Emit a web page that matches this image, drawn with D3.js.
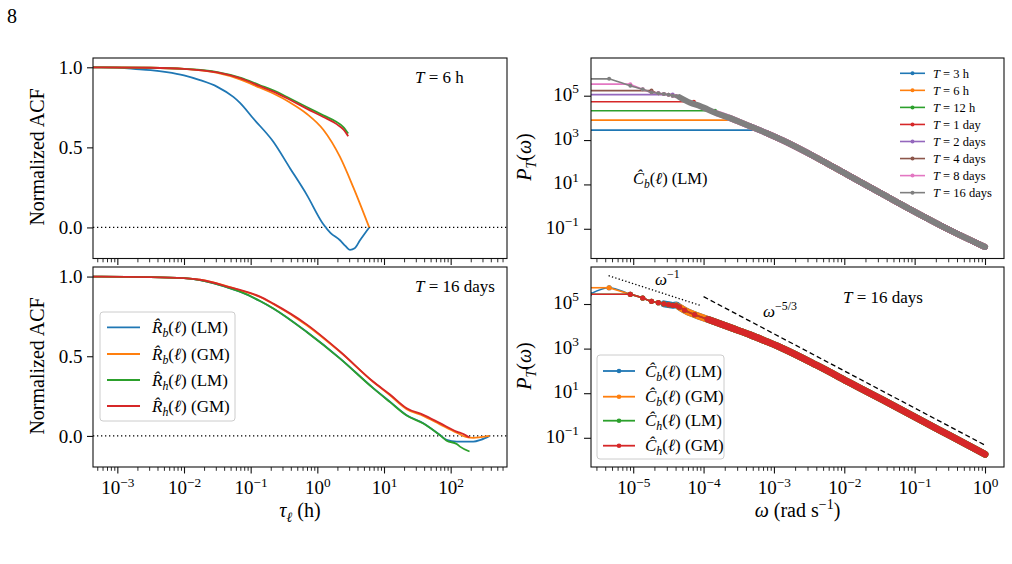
<!DOCTYPE html>
<html><head><meta charset="utf-8">
<script src="https://cdn.jsdelivr.net/npm/d3@7"></script>
<style>
body{margin:0;background:#fff}
svg{display:block}
text{font-family:"Liberation Serif","Times New Roman",serif;fill:#000}
</style>
</head><body>
<svg id="c" width="1012" height="564"></svg>
<script>
// ================= DATA =================
// Left panels: [log10(tau_l / h), normalized ACF]
const acf6hRbLM = [[-3.6,1.0],[-3.0,0.998],[-2.76,0.99],[-2.5,0.982],[-2.26,0.97],[-2.0,0.95],[-1.76,0.92],[-1.5,0.878],[-1.26,0.815],[-1.16,0.778],[-0.96,0.68],[-0.66,0.535],[-0.41,0.37],[-0.16,0.205],[0.09,0.02],[0.2,-0.035],[0.34,-0.08],[0.42,-0.115],[0.49,-0.14],[0.56,-0.13],[0.64,-0.08],[0.778,0.0]];
const acf6hRbGM = [[-3.6,1.0],[-2.5,0.997],[-2.0,0.99],[-1.5,0.965],[-1.16,0.925],[-0.86,0.872],[-0.66,0.836],[-0.41,0.78],[-0.16,0.71],[0.09,0.61],[0.34,0.44],[0.54,0.25],[0.778,0.0]];
const acf6hRhLM = [[-3.6,1.0],[-2.5,0.997],[-2.0,0.99],[-1.5,0.97],[-1.16,0.936],[-0.86,0.888],[-0.66,0.856],[-0.41,0.805],[-0.16,0.752],[0.09,0.70],[0.29,0.658],[0.39,0.627],[0.463,0.586]];
const acf6hRhGM = [[-3.6,1.0],[-2.5,0.997],[-2.0,0.99],[-1.5,0.968],[-1.16,0.932],[-0.86,0.882],[-0.66,0.848],[-0.41,0.797],[-0.16,0.742],[0.09,0.69],[0.29,0.645],[0.39,0.612],[0.463,0.57]];

const acf16dRbLM = [[-3.6,1.0],[-2.5,0.997],[-2.0,0.99],[-1.76,0.978],[-1.26,0.92],[-1.16,0.905],[-0.86,0.847],[-0.66,0.80],[-0.16,0.654],[0.34,0.487],[0.84,0.30],[1.09,0.215],[1.34,0.13],[1.59,0.08],[1.84,0.006],[1.94,-0.025],[2.09,-0.036],[2.34,-0.036],[2.45,-0.025],[2.584,0.0]];
const acf16dRbGM = [[-3.6,1.0],[-2.5,0.997],[-2.0,0.99],[-1.76,0.98],[-1.26,0.927],[-1.16,0.914],[-0.86,0.872],[-0.66,0.828],[-0.16,0.695],[0.34,0.527],[0.84,0.338],[1.09,0.255],[1.34,0.168],[1.59,0.125],[1.84,0.072],[2.09,0.02],[2.24,-0.008],[2.34,-0.012],[2.45,-0.008],[2.584,0.0]];
const acf16dRhLM = [[-3.6,1.0],[-2.5,0.997],[-2.0,0.99],[-1.76,0.978],[-1.26,0.92],[-1.16,0.905],[-0.86,0.847],[-0.66,0.80],[-0.16,0.652],[0.34,0.485],[0.84,0.298],[1.09,0.212],[1.34,0.128],[1.59,0.078],[1.84,0.004],[1.94,-0.03],[2.09,-0.05],[2.14,-0.067],[2.283,-0.098]];
const acf16dRhGM = [[-3.6,1.0],[-2.5,0.997],[-2.0,0.99],[-1.76,0.98],[-1.26,0.927],[-1.16,0.916],[-0.86,0.874],[-0.66,0.83],[-0.16,0.70],[0.34,0.53],[0.84,0.34],[1.09,0.26],[1.34,0.174],[1.59,0.132],[1.84,0.08],[2.09,0.027],[2.2,0.01],[2.283,-0.01]];

const acfLegendLabels = [["b","LM"],["b","GM"],["h","LM"],["h","GM"]];

// Top-right: spectra of C_b (LM) for different T : [log10 omega, log10 P]
const periodLabels = ["3 h","6 h","12 h","1 day","2 days","4 days","8 days","16 days"];
const firstOmegaLog = [-3.235,-3.536,-3.837,-4.138,-4.439,-4.740,-5.041,-5.342];
const firstPowerLog = [3.45,3.90,4.32,4.73,5.05,5.23,5.52,5.76];
const specTailLM = [[-5.041,5.45],[-4.865,5.29],[-4.740,5.15],[-4.643,5.11],[-4.564,5.08],[-4.497,5.04],[-4.439,5.00],[-4.388,4.97],[-4.342,4.93],[-4.19,4.68],[-4.05,4.53],[-3.81,4.20],[-3.63,4.00],[-3.34,3.62],[-3.10,3.31],[-2.87,2.98],[-2.39,2.20],[-1.92,1.37],[-1.45,0.55],[-0.97,-0.28],[-0.50,-1.06],[0.0,-1.82]];

// Bottom-right: T = 16 days spectra
const spec16dHeadCbLM = [[-5.62,5.44],[-5.342,5.73],[-5.041,5.435]];
const spec16dHeadCbGM = [[-5.342,5.73],[-5.041,5.435]];
const spec16dHeadChLM = [[-5.041,5.435]];
const spec16dHeadChGM = [[-5.041,5.435]];
const spec16dTailCb = [[-4.865,5.27],[-4.740,5.12],[-4.643,5.06],[-4.564,5.01],[-4.497,4.97],[-4.439,4.94],[-4.388,4.96],[-4.342,4.86],[-4.269,4.72],[-4.127,4.52],[-3.937,4.31],[-3.58,3.90],[-3.34,3.62],[-3.10,3.31],[-2.87,3.00],[-2.39,2.25],[-1.92,1.47],[-1.45,0.69],[-0.97,-0.11],[-0.50,-0.90],[0.0,-1.74]];
const spec16dTailCh = [[-4.865,5.27],[-4.740,5.12],[-4.643,5.06],[-4.564,5.01],[-4.497,4.97],[-4.439,4.94],[-4.388,4.93],[-4.342,4.86],[-4.269,4.72],[-4.127,4.52],[-3.937,4.31],[-3.58,3.90],[-3.34,3.62],[-3.10,3.31],[-2.87,3.00],[-2.39,2.25],[-1.92,1.47],[-1.45,0.69],[-0.97,-0.11],[-0.50,-0.90],[0.0,-1.74]];
const specLegendLabels = [["b","LM"],["b","GM"],["h","LM"],["h","GM"]];

// Reference power laws [log10 omega, log10 P]
const guideOmegaM1 = [[-5.35,6.27],[-4.03,4.92]];
const guideOmegaM53 = [[-4.0,5.33],[0.0,-1.33]];

// Ticks
const acfXTicks = [1e-3,1e-2,1e-1,1e0,1e1,1e2];
const acfYTicks = [0.0,0.5,1.0];
const specXTicks = [1e-5,1e-4,1e-3,1e-2,1e-1,1e0];
const specYTicks = [1e-1,1e1,1e3,1e5];

const colors = ["#1f77b4","#ff7f0e","#2ca02c","#d62728","#9467bd","#8c564b","#e377c2","#7f7f7f"];

// ================= LAYOUT =================
const svg = d3.select("#c");
const L = {x0:93, x1:507}, R = {x0:591, x1:1004};
const TOP = {y0:58, y1:258.5}, BOT = {y0:267, y1:467};

const xAcf = d3.scaleLog().domain([10**-3.365, 10**2.845]).range([L.x0, L.x1]);
const yAcfTop = d3.scaleLinear().domain([-0.194,1.058]).range([TOP.y1, TOP.y0]);
const yAcfBot = d3.scaleLinear().domain([-0.195,1.06]).range([BOT.y1, BOT.y0]);
const xSp = d3.scaleLog().domain([10**-5.60, 10**0.27]).range([R.x0, R.x1]);
const ySpTop = d3.scaleLog().domain([10**-2.34, 10**6.70]).range([TOP.y1, TOP.y0]);
const ySpBot = d3.scaleLog().domain([10**-2.31, 10**6.66]).range([BOT.y1, BOT.y0]);

const defs = svg.append("defs");
let clipId = 0;
function panel(xr, yr) {
  const id = "clip" + (clipId++);
  defs.append("clipPath").attr("id", id).append("rect")
    .attr("x", xr.x0).attr("y", yr.y0).attr("width", xr.x1 - xr.x0).attr("height", yr.y1 - yr.y0);
  return svg.append("g").attr("clip-path", `url(#${id})`);
}
function frame(xr, yr) {
  svg.append("rect").attr("x", xr.x0).attr("y", yr.y0).attr("width", xr.x1 - xr.x0).attr("height", yr.y1 - yr.y0)
    .attr("fill", "none").attr("stroke", "#111").attr("stroke-width", 1.1);
}

function minorLog(scale) {
  const [a, b] = scale.domain();
  const out = [];
  for (let e = Math.floor(Math.log10(a)); e <= Math.ceil(Math.log10(b)); e++)
    for (let m = 2; m <= 9; m++) { const v = m * 10 ** e; if (v >= a && v <= b) out.push(v); }
  return out;
}
function supLabel(textSel, d, size) {
  const e = Math.round(Math.log10(d));
  textSel.text(null);
  textSel.append("tspan").text("10");
  textSel.append("tspan").text(e < 0 ? "\u2212" + (-e) : String(e))
    .attr("font-size", size * 0.7).attr("dy", -size * 0.42);
}

function xAxis(x, yPix, majors, showLabels) {
  const gm = svg.append("g").attr("transform", `translate(0,${yPix})`)
    .call(d3.axisBottom(x).tickValues(minorLog(x)).tickSize(3.8).tickFormat(""));
  gm.select(".domain").remove();
  gm.selectAll("line").attr("stroke", "#111").attr("stroke-width", 0.9);
  const g = svg.append("g").attr("transform", `translate(0,${yPix})`)
    .call(d3.axisBottom(x).tickValues(majors).tickSize(6.5).tickPadding(7.5).tickFormat(() => ""));
  g.select(".domain").remove();
  g.selectAll("line").attr("stroke", "#111").attr("stroke-width", 1.1);
  g.attr("font-family", null).attr("font-size", 19);
  if (showLabels) g.selectAll(".tick text").each(function (d) { supLabel(d3.select(this), d, 19); });
}
function yAxisLin(y, xPix, ticks) {
  const g = svg.append("g").attr("transform", `translate(${xPix},0)`)
    .call(d3.axisLeft(y).tickValues(ticks).tickSize(6).tickPadding(4.5).tickFormat(d3.format(".1f")));
  g.select(".domain").remove();
  g.selectAll("line").attr("stroke", "#111").attr("stroke-width", 1.1);
  g.attr("font-family", null).attr("font-size", 19);
}
function yAxisLog(y, xPix, ticks) {
  const g = svg.append("g").attr("transform", `translate(${xPix},0)`)
    .call(d3.axisLeft(y).tickValues(ticks).tickSize(7).tickPadding(5).tickFormat(() => ""));
  g.select(".domain").remove();
  g.selectAll("line").attr("stroke", "#111").attr("stroke-width", 1.1);
  g.attr("font-family", null).attr("font-size", 19);
  g.selectAll(".tick text").attr("dy", "0.24em").each(function (d) { supLabel(d3.select(this), d, 19); });
}

function rich(g, x, y, parts, size, anchor) {
  const t = g.append("text").attr("x", x).attr("y", y).attr("font-size", size)
    .attr("text-anchor", anchor || "start");
  let cur = 0;
  parts.forEach(([s, st]) => {
    st = st || "";
    let shift = 0, fs = size;
    if (st.includes("sub")) { shift = 0.24 * size; fs = 0.7 * size; }
    if (st.includes("sup")) { shift = -0.42 * size; fs = 0.7 * size; }
    const ts = t.append("tspan").text(s).attr("font-size", fs);
    if (shift - cur !== 0) ts.attr("dy", shift - cur);
    if (st.startsWith("i")) ts.attr("font-style", "italic");
    cur = shift;
  });
  return t;
}

// ================= LEFT PANELS (ACF) =================
function drawAcf(g, y, series) {
  g.append("line").attr("x1", L.x0).attr("x2", L.x1).attr("y1", y(0)).attr("y2", y(0))
    .attr("stroke", "#000").attr("stroke-width", 1.2).attr("stroke-dasharray", "1.3,2.7");
  const line = d3.line().curve(d3.curveMonotoneX).x(d => xAcf(10 ** d[0])).y(d => y(d[1]));
  series.forEach((s, i) => {
    g.append("path").attr("d", line(s)).attr("fill", "none")
      .attr("stroke", colors[i]).attr("stroke-width", 1.8).attr("stroke-linejoin", "round");
  });
}
const gTL = panel(L, TOP);
drawAcf(gTL, yAcfTop, [acf6hRbLM, acf6hRbGM, acf6hRhLM, acf6hRhGM]);
const gBL = panel(L, BOT);
drawAcf(gBL, yAcfBot, [acf16dRbLM, acf16dRbGM, acf16dRhLM, acf16dRhGM]);

// ================= RIGHT PANELS (spectra) =================
const smooth = d3.line().curve(d3.curveMonotoneX);
function drawSpec(g, y, pts, color, r, bandW) {
  const P = pts.map(d => [xSp(10 ** d[0]), y(10 ** d[1])]);
  const lw = 1.6;
  // segment toward the (off-axis) zero-frequency point
  g.append("line").attr("x1", R.x0 - 10).attr("x2", P[0][0]).attr("y1", P[0][1]).attr("y2", P[0][1])
    .attr("stroke", color).attr("stroke-width", lw);
  g.append("path").attr("d", smooth(P)).attr("fill", "none").attr("stroke", color)
    .attr("stroke-width", lw).attr("stroke-linejoin", "round");
  const start = pts[0][0] + 1;
  const band = P.filter((p, i) => pts[i][0] >= start - 1e-9);
  if (band.length > 1)
    g.append("path").attr("d", smooth(band)).attr("fill", "none").attr("stroke", color)
      .attr("stroke-width", bandW).attr("stroke-linecap", "round").attr("stroke-linejoin", "round");
  g.selectAll(null).data(P).enter().append("circle")
    .attr("cx", d => d[0]).attr("cy", d => d[1]).attr("r", r).attr("fill", color);
}

const gTR = panel(R, TOP);
periodLabels.forEach((lab, i) => {
  const pts = [[firstOmegaLog[i], firstPowerLog[i]]].concat(specTailLM.filter(p => p[0] > firstOmegaLog[i] + 0.01));
  drawSpec(gTR, ySpTop, pts, colors[i], 2.0, 6);
});

const gBR = panel(R, BOT);
const br = [spec16dHeadCbLM.concat(spec16dTailCb), spec16dHeadCbGM.concat(spec16dTailCb),
            spec16dHeadChLM.concat(spec16dTailCh), spec16dHeadChGM.concat(spec16dTailCh)];
br.forEach((pts, i) => drawSpec(gBR, ySpBot, pts, colors[i], 2.6, 6.8));

const gl = d3.line().x(d => xSp(10 ** d[0])).y(d => ySpBot(10 ** d[1]));
gBR.append("path").attr("d", gl(guideOmegaM1)).attr("fill", "none").attr("stroke", "#000")
  .attr("stroke-width", 1.3).attr("stroke-dasharray", "1.3,2.2");
gBR.append("path").attr("d", gl(guideOmegaM53)).attr("fill", "none").attr("stroke", "#000")
  .attr("stroke-width", 1.3).attr("stroke-dasharray", "5,3");

// ================= FRAMES & AXES =================
frame(L, TOP); frame(L, BOT); frame(R, TOP); frame(R, BOT);
xAxis(xAcf, TOP.y1, acfXTicks, false);
xAxis(xAcf, BOT.y1, acfXTicks, true);
xAxis(xSp, TOP.y1, specXTicks, false);
xAxis(xSp, BOT.y1, specXTicks, true);
yAxisLin(yAcfTop, L.x0, acfYTicks);
yAxisLin(yAcfBot, L.x0, acfYTicks);
yAxisLog(ySpTop, R.x0, specYTicks);
yAxisLog(ySpBot, R.x0, specYTicks);

// ================= TEXTS =================
svg.append("text").attr("x", 7).attr("y", 23).attr("font-size", 20).text("8");

[157, 366].forEach(cy => {
  svg.append("text").attr("transform", `translate(44,${cy}) rotate(-90)`).attr("text-anchor", "middle")
    .attr("font-size", 20).text("Normalized ACF");
  const t = rich(svg, 0, 0, [["P", "i"], ["T", "isub"], ["(", ""], ["\u03C9", "i"], [")", ""]], 20, "middle");
  t.attr("transform", `translate(531,${cy}) rotate(-90)`);
});

rich(svg, (L.x0 + L.x1) / 2, 517, [["\u03C4", "i"], ["\u2113", "isub"], [" (h)", ""]], 20, "middle");
rich(svg, (R.x0 + R.x1) / 2, 517, [["\u03C9", "i"], [" (rad s", ""], ["\u22121", "sup"], [")", ""]], 20, "middle");

rich(svg, 415, 83, [["T", "i"], [" = 6 h", ""]], 17);
rich(svg, 415, 292, [["T", "i"], [" = 16 days", ""]], 17);
rich(svg, 843, 303, [["T", "i"], [" = 16 days", ""]], 17);
rich(svg, 633, 184, [["C\u0302", "i"], ["b", "isub"], ["(", ""], ["\u2113", "i"], [") (LM)", ""]], 16.5);
rich(svg, 655, 285, [["\u03C9", "i"], ["\u22121", "sup"]], 17);
rich(svg, 763, 317, [["\u03C9", "i"], ["\u22125/3", "sup"]], 17);

// ================= LEGENDS =================
// Top-right (no frame)
periodLabels.forEach((lab, i) => {
  const yy = 73.3 + 17.05 * i;
  svg.append("line").attr("x1", 900).attr("x2", 925).attr("y1", yy).attr("y2", yy)
    .attr("stroke", colors[i]).attr("stroke-width", 1.6);
  svg.append("circle").attr("cx", 912.5).attr("cy", yy).attr("r", 2).attr("fill", colors[i]);
  rich(svg, 933, yy + 4.3, [["T", "i"], [" = " + lab, ""]], 12.5);
});

function boxLegend(x, y, w, h, rows, labels, letter, markers, x1, x2, tx) {
  svg.append("rect").attr("x", x).attr("y", y).attr("width", w).attr("height", h).attr("rx", 3)
    .attr("fill", "rgba(255,255,255,0.8)").attr("stroke", "#cccccc").attr("stroke-width", 1);
  labels.forEach(([sub, kind], i) => {
    const yy = rows[i];
    svg.append("line").attr("x1", x1).attr("x2", x2).attr("y1", yy).attr("y2", yy)
      .attr("stroke", colors[i]).attr("stroke-width", 1.8);
    if (markers) svg.append("circle").attr("cx", (x1 + x2) / 2).attr("cy", yy).attr("r", 2.3).attr("fill", colors[i]);
    rich(svg, tx, yy + 5.5, [[letter + "\u0302", "i"], [sub, "isub"], ["(", ""], ["\u2113", "i"], [") (" + kind + ")", ""]], 17);
  });
}
boxLegend(100, 312, 135, 109, [327.3, 354, 380, 406], acfLegendLabels, "R", false, 107, 140, 152);
boxLegend(597, 355, 127, 104, [371, 396.7, 420.7, 445.7], specLegendLabels, "C", true, 603, 635, 645);
</script>
</body></html>
